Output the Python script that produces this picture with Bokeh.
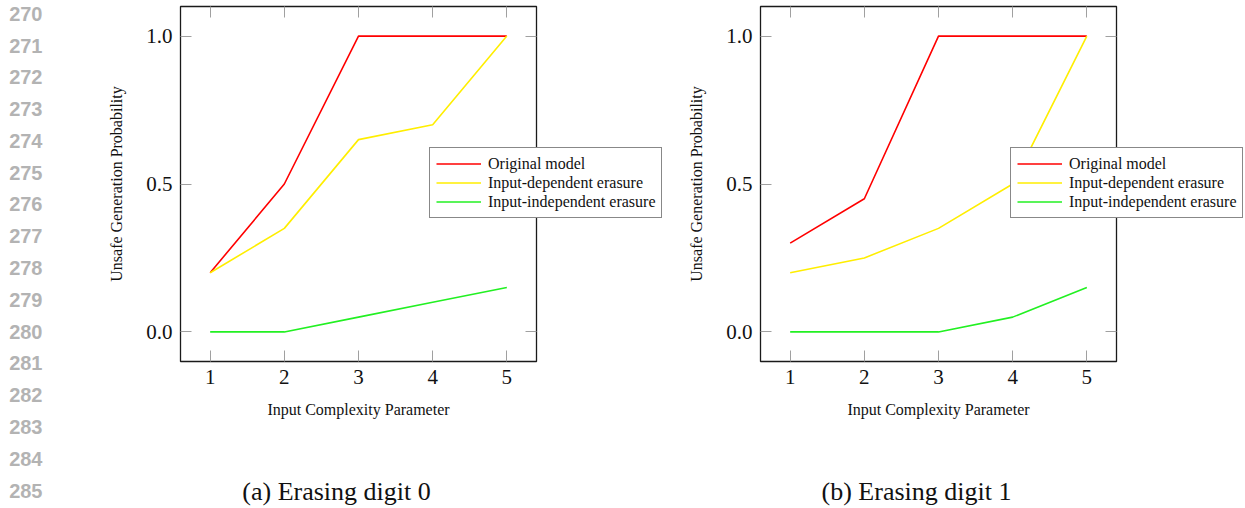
import numpy as np
from bokeh.plotting import figure
from bokeh.models import (Range1d, FixedTicker, LinearAxis, Legend, LegendItem,
                          Label, PrintfTickFormatter, CustomJSTickFormatter)
from bokeh.layouts import row
from bokeh.embed import file_html
from bokeh.resources import INLINE

# ---------------- data ----------------
x_values = [1, 2, 3, 4, 5]
series_names = ["Original model", "Input-dependent erasure", "Input-independent erasure"]
series_colors = ["#ff0000", "#ffee00", "#22f022"]

digit0_original = [0.2, 0.5, 1.0, 1.0, 1.0]
digit0_dependent = [0.2, 0.35, 0.65, 0.7, 1.0]
digit0_independent = [0.0, 0.0, 0.05, 0.1, 0.15]

digit1_original = [0.3, 0.45, 1.0, 1.0, 1.0]
digit1_dependent = [0.2, 0.25, 0.35, 0.5, 1.0]
digit1_independent = [0.0, 0.0, 0.0, 0.05, 0.15]

x_ticks = [1, 2, 3, 4, 5]
y_ticks = [0.0, 0.5, 1.0]
captions = ["(a) Erasing digit 0", "(b) Erasing digit 1"]
line_numbers = list(range(270, 286))
x_label = "Input Complexity Parameter"
y_label = "Unsafe Generation Probability"

SERIF = "Liberation Serif"
WIDTH, HEIGHT = 1245, 508
BORDER_TOP = 6
BORDER_BOTTOM = 147
TICK_COLOR = "#a0a0a0"
ABS = {"position": "absolute", "left": "0px", "top": "0px"}


def make_panel(series, width, border_left, border_right):
    p = figure(width=width, height=HEIGHT, output_backend="svg", toolbar_location=None,
               x_range=Range1d(0.6, 5.4), y_range=Range1d(-0.1, 1.1),
               min_border_left=border_left, min_border_right=border_right,
               min_border_top=BORDER_TOP, min_border_bottom=BORDER_BOTTOM)
    p.background_fill_color = "white"
    p.border_fill_color = "white"
    p.outline_line_color = "#1a1a1a"
    p.outline_line_width = 1.3
    p.xgrid.visible = False
    p.ygrid.visible = False

    for ax, ticks in ((p.xaxis[0], x_ticks), (p.yaxis[0], y_ticks)):
        ax.ticker = FixedTicker(ticks=ticks)
        ax.axis_line_color = None
        ax.major_tick_in = 11
        ax.major_tick_out = 0
        ax.major_tick_line_color = TICK_COLOR
        ax.minor_tick_line_color = None
        ax.major_label_text_font = SERIF
        ax.major_label_text_font_size = "21px"
        ax.major_label_text_color = "#111111"
        ax.axis_label_text_font = SERIF
        ax.axis_label_text_font_size = "16px"
        ax.axis_label_text_font_style = "normal"
        ax.axis_label_text_color = "#111111"
    p.yaxis[0].formatter = PrintfTickFormatter(format="%.1f")
    p.xaxis[0].axis_label = x_label
    p.yaxis[0].axis_label = y_label
    p.xaxis[0].major_label_standoff = 8
    p.yaxis[0].major_label_standoff = 8
    p.xaxis[0].axis_label_standoff = 14
    p.yaxis[0].axis_label_standoff = 18

    # mirrored tick marks on top and right (no labels)
    for side, ticks in (("above", x_ticks), ("right", y_ticks)):
        ax = LinearAxis(ticker=FixedTicker(ticks=ticks),
                        formatter=CustomJSTickFormatter(code="return ''"))
        ax.axis_line_color = None
        ax.major_tick_in = 11
        ax.major_tick_out = 0
        ax.major_tick_line_color = TICK_COLOR
        ax.minor_tick_line_color = None
        ax.major_label_text_font_size = "1px"
        ax.major_label_standoff = 0
        p.add_layout(ax, side)

    for color, ys in zip(series_colors, series):
        p.line(x_values, ys, line_color=color, line_width=1.6)
    return p


p1 = make_panel([digit0_original, digit0_dependent, digit0_independent],
                width=680, border_left=180, border_right=144)
p2 = make_panel([digit1_original, digit1_dependent, digit1_independent],
                width=565, border_left=80, border_right=129)
panels = row(p1, p2, spacing=0, styles=ABS)

# ---------------- page overlay: line numbers, legends, captions ----------------
NUM_BORDER = 46
top_value = line_numbers[0] - 13.3 / 31.78
bottom_value = top_value + HEIGHT / 31.78
ov = figure(width=WIDTH, height=HEIGHT, output_backend="svg", toolbar_location=None,
            x_range=Range1d(0, WIDTH - NUM_BORDER), y_range=Range1d(bottom_value, top_value),
            x_axis_location=None, y_axis_location="left",
            min_border_left=NUM_BORDER, min_border_right=0, min_border_top=0, min_border_bottom=0,
            styles=dict(ABS, **{"z-index": "2", "pointer-events": "none"}))
ov.outline_line_color = None
ov.background_fill_alpha = 0
ov.border_fill_alpha = 0
ov.xgrid.visible = False
ov.ygrid.visible = False
nax = ov.yaxis[0]
nax.ticker = FixedTicker(ticks=line_numbers)
nax.axis_line_color = None
nax.major_tick_line_color = None
nax.minor_tick_line_color = None
nax.major_tick_in = 0
nax.major_tick_out = 0
nax.major_label_standoff = 4
nax.major_label_text_font = "Liberation Sans"
nax.major_label_text_font_style = "bold"
nax.major_label_text_font_size = "20px"
nax.major_label_text_color = "#b3b3b3"

# legend keys (same styles as the panel lines; no visible vertices of their own)
key_renderers = [ov.line(np.array([np.nan]), np.array([np.nan]), line_color=c, line_width=1.6)
                 for c in series_colors]

legend_left = [429, 1010]       # page px
legend_bottom = 218.3           # page px
caption_center = [336, 916]     # page px
caption_baseline = 490.5        # page px (as placed by the renderer)

for lx, cx, cap in zip(legend_left, caption_center, captions):
    items = [LegendItem(label=n, renderers=[r]) for n, r in zip(series_names, key_renderers)]
    ov.add_layout(Legend(items=items, location=(lx - NUM_BORDER, HEIGHT - legend_bottom),
                         border_line_color="#111111", border_line_width=1,
                         background_fill_color="white", background_fill_alpha=1.0,
                         padding=6, spacing=0, glyph_width=45, glyph_height=19,
                         label_height=19, label_standoff=7, margin=0,
                         label_text_font=SERIF, label_text_font_size="16px",
                         label_text_color="#111111"))
    ov.add_layout(Label(x=cx - NUM_BORDER, y=HEIGHT - caption_baseline,
                        x_units="screen", y_units="screen", text=cap,
                        text_font=SERIF, text_font_size="26px", text_align="center",
                        text_baseline="alphabetic", text_color="#111111"))

open("out.html", "w").write(file_html([panels, ov], INLINE))
